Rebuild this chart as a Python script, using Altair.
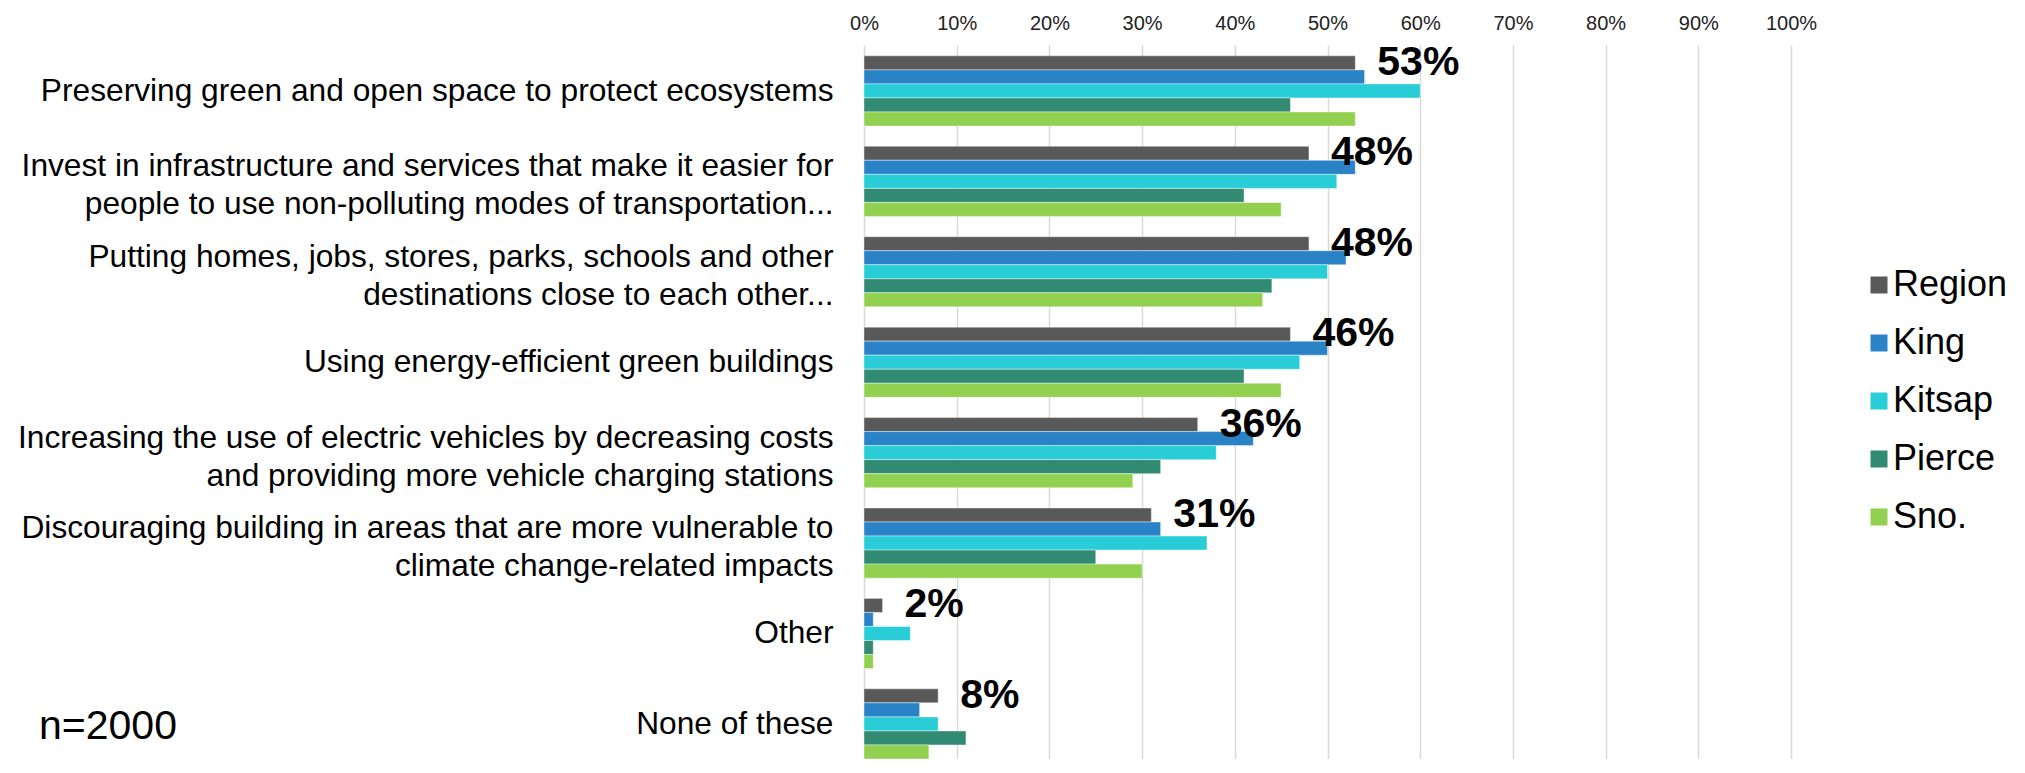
import altair as alt
import pandas as pd

categories = [
    "Preserving green and open space to protect ecosystems",
    "Invest in infrastructure and services that make it easier for|people to use non-polluting modes of transportation...",
    "Putting homes, jobs, stores, parks, schools and other|destinations close to each other...",
    "Using energy-efficient green buildings",
    "Increasing the use of electric vehicles by decreasing costs|and providing more vehicle charging stations",
    "Discouraging building in areas that are more vulnerable to|climate change-related impacts",
    "Other",
    "None of these",
]
series = ["Region", "King", "Kitsap", "Pierce", "Sno."]
colors = ["#595959", "#2A82C7", "#29CDD7", "#318B73", "#92D050"]

region = [53, 48, 48, 46, 36, 31, 2, 8]
king = [54, 53, 52, 50, 42, 32, 1, 6]
kitsap = [60, 51, 50, 47, 38, 37, 5, 8]
pierce = [46, 41, 44, 41, 32, 25, 1, 11]
sno = [53, 45, 43, 45, 29, 30, 1, 7]
tick_values = [0, 10, 20, 30, 40, 50, 60, 70, 80, 90, 100]
note = ["n=2000"]

rows = []
for s, vals in zip(series, [region, king, kitsap, pierce, sno]):
    for c, v in zip(categories, vals):
        rows.append({"category": c, "series": s, "value": v})
df = pd.DataFrame(rows)

FONT = "Liberation Sans"

base = alt.Chart(df)

y_enc = alt.Y(
    "category:N",
    sort=categories,
    scale=alt.Scale(paddingInner=0.224, paddingOuter=0.06, align=1),
    axis=alt.Axis(
        title=None,
        labelExpr="split(datum.label, '|')",
        labelFontSize=31.7,
        labelLineHeight=38,
        labelLimit=2000,
        labelPadding=31,
        labelColor="#000000",
        labelOffset={"condition": {"test": "indexof(datum.label, '|') >= 0", "value": -15}, "value": 0},
        ticks=False,
        domain=False,
        grid=False,
    ),
)
x_enc = alt.X(
    "value:Q",
    scale=alt.Scale(domain=[0, 100]),
    axis=alt.Axis(
        orient="top",
        title=None,
        values=tick_values,
        labelExpr="datum.value + '%'",
        labelFontSize=20,
        labelColor="#222222",
        labelPadding=12,
        labelFlush=False,
        labelOverlap=False,
        ticks=False,
        domain=False,
        grid=True,
        gridColor="#D9D9D9",
        gridWidth=1.5,
    ),
)
yoff = alt.YOffset("series:N", sort=series, scale=alt.Scale(paddingInner=0, paddingOuter=0))

bars = base.mark_bar(stroke="white", strokeWidth=0.6, strokeOpacity=0.7).encode(
    y=y_enc,
    x=x_enc,
    yOffset=yoff,
    color=alt.Color(
        "series:N",
        sort=series,
        scale=alt.Scale(domain=series, range=colors),
        legend=alt.Legend(
            title=None,
            orient="none",
            legendX=997,
            legendY=222,
            symbolType="square",
            symbolSize=289,
            symbolStrokeWidth=0,
            labelFontSize=36,
            labelColor="#000000",
            labelOffset={"expr": "-4"},
            labelLimit=500,
            rowPadding=22,
            padding=0,
        ),
    ),
)

labels = base.transform_filter(alt.datum.series == "Region").transform_calculate(
    label="datum.value + '%'"
).mark_text(align="left", baseline="middle", dx=22, fontSize=41, fontWeight="bold", color="#000000").encode(
    y=alt.Y("category:N", sort=categories),
    x=alt.X("value:Q"),
    yOffset=alt.YOffset("series:N", sort=series),
    text="label:N",
)

note_text = alt.Chart(pd.DataFrame({"t": note})).mark_text(
    align="left", baseline="middle", fontSize=41, color="#000000"
).encode(x=alt.value(-825), y=alt.value(682), text="t:N")

chart = (
    alt.layer(bars, labels, note_text)
    .properties(
        width=927,
        height=714,
        autosize=alt.AutoSizeParams(type="none"),
        padding={"left": 856, "top": 37, "right": 222, "bottom": 0},
    )
    .configure(font=FONT)
    .configure_view(stroke=None)
)

chart.save("out.html", embed_options={"renderer": "svg", "actions": False})
